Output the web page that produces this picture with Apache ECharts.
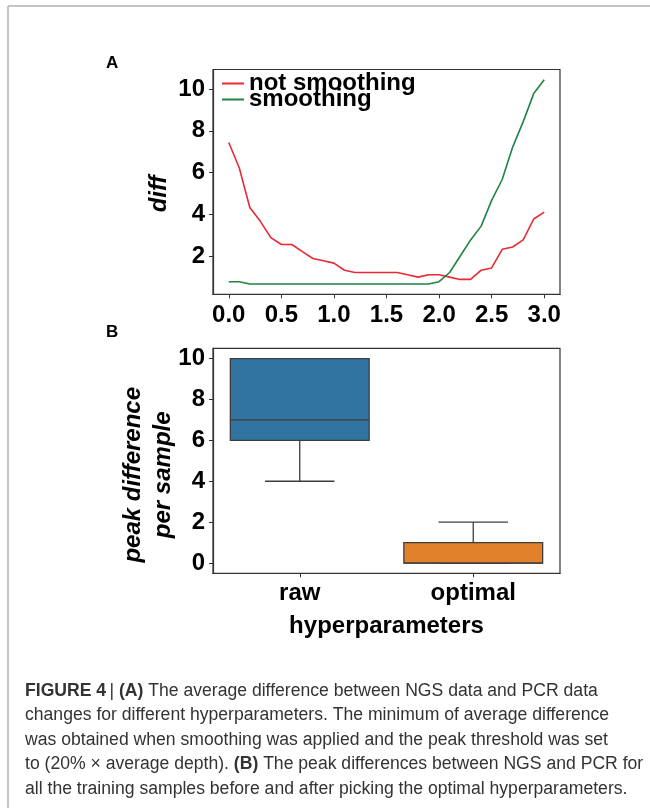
<!DOCTYPE html>
<html>
<head>
<meta charset="utf-8">
<script src="https://cdn.jsdelivr.net/npm/echarts@6/dist/echarts.min.js"></script>
<style>
  html, body { margin: 0; padding: 0; background: #fff; }
  #main { width: 650px; height: 808px; }
</style>
</head>
<body>
<div id="main"></div>
<script>
// panel A: average difference vs. peak threshold hyperparameter
const thresholds = [0.0, 0.1, 0.2, 0.3, 0.4, 0.5, 0.6, 0.7, 0.8, 0.9, 1.0,
  1.1, 1.2, 1.3, 1.4, 1.5, 1.6, 1.7, 1.8, 1.9, 2.0,
  2.1, 2.2, 2.3, 2.4, 2.5, 2.6, 2.7, 2.8, 2.9, 3.0]
const notSmoothing = [7.44, 6.22, 4.33, 3.67, 2.89, 2.56, 2.56, 2.22, 1.89, 1.78, 1.67,
  1.33, 1.22, 1.22, 1.22, 1.22, 1.22, 1.11, 1.0, 1.11, 1.11,
  1.0, 0.89, 0.89, 1.33, 1.44, 2.33, 2.44, 2.78, 3.78, 4.11]
const smoothing = [0.78, 0.78, 0.67, 0.67, 0.67, 0.67, 0.67, 0.67, 0.67, 0.67, 0.67,
  0.67, 0.67, 0.67, 0.67, 0.67, 0.67, 0.67, 0.67, 0.67, 0.78,
  1.22, 2.0, 2.78, 3.44, 4.67, 5.67, 7.22, 8.44, 9.78, 10.44]
const xTicksA = [0, 0.5, 1.0, 1.5, 2.0, 2.5, 3.0]
const yTicksA = [2, 4, 6, 8, 10]

// panel B: peak difference per sample, [min, Q1, median, Q3, max]
const boxCategories = ['raw', 'optimal']
const boxStats = [
  [4, 6, 7, 10, 10],
  [0, 0, 0, 1, 2]
]
const boxColors = ['#3274a1', '#e1812c']
const yTicksB = [0, 2, 4, 6, 8, 10]

const font = 'Liberation Sans, Arial, sans-serif'
const tickText = { fontFamily: font, fontWeight: 'bold', fontSize: 24, color: '#000' }
const spine = '#333'

const chart = echarts.init(document.getElementById('main'), null, { renderer: 'canvas' })

function zip (xs, ys) {
  return xs.map((x, i) => [x, ys[i]])
}

function renderBox (params, api) {
  const cat = api.value(0)
  const band = api.size([1, 0])[0]
  const half = band * 0.4
  const cap = band * 0.2
  const cx = api.coord([cat, 0])[0]
  const y = k => api.coord([cat, api.value(k)])[1]
  const yMin = y(1), yQ1 = y(2), yMed = y(3), yQ3 = y(4), yMax = y(5)
  const line = { stroke: '#3d3d3d', lineWidth: 1.3 }
  return {
    type: 'group',
    children: [
      { type: 'line', shape: { x1: cx, y1: yQ1, x2: cx, y2: yMin }, style: line },
      { type: 'line', shape: { x1: cx - cap, y1: yMin, x2: cx + cap, y2: yMin }, style: line },
      { type: 'line', shape: { x1: cx, y1: yQ3, x2: cx, y2: yMax }, style: line },
      { type: 'line', shape: { x1: cx - cap, y1: yMax, x2: cx + cap, y2: yMax }, style: line },
      {
        type: 'rect',
        shape: { x: cx - half, y: yQ3, width: half * 2, height: yQ1 - yQ3 },
        style: { fill: boxColors[cat], stroke: '#3d3d3d', lineWidth: 1.3 }
      },
      { type: 'line', shape: { x1: cx - half, y1: yMed, x2: cx + half, y2: yMed }, style: line }
    ]
  }
}

const caption = [
  '{b|FIGURE 4} {n|| }{b|(A)}{n| The average difference between NGS data and PCR data}',
  '{n|changes for different hyperparameters. The minimum of average difference}',
  '{n|was obtained when smoothing was applied and the peak threshold was set}',
  '{n|to (20% × average depth). }{b|(B)}{n| The peak differences between NGS and PCR for}',
  '{n|all the training samples before and after picking the optimal hyperparameters.}'
]

const option = {
  animation: false,
  backgroundColor: '#fff',
  legend: {
    left: 222,
    top: 71.5,
    padding: 0,
    orient: 'vertical',
    itemGap: -8,
    itemWidth: 22,
    itemHeight: 2,
    icon: 'rect',
    data: ['not smoothing', 'smoothing'],
    textStyle: { fontFamily: font, fontWeight: 'bold', fontSize: 24, color: '#000' }
  },
  grid: [
    { left: 213, top: 69.5, width: 347, height: 224.8, show: true, borderColor: spine, borderWidth: 1.2 },
    { left: 213, top: 348.3, width: 347, height: 225, show: true, borderColor: spine, borderWidth: 1.2 }
  ],
  xAxis: [
    {
      gridIndex: 0,
      type: 'value',
      min: -0.15,
      max: 3.15,
      axisLine: { show: true, onZero: false, lineStyle: { color: spine, width: 1.2 } },
      axisTick: { show: true, length: 4, customValues: xTicksA, lineStyle: { color: spine } },
      axisLabel: { customValues: xTicksA, margin: 9, formatter: v => v.toFixed(1), ...tickText },
      splitLine: { show: false }
    },
    {
      gridIndex: 1,
      type: 'category',
      data: boxCategories,
      name: 'hyperparameters',
      nameLocation: 'middle',
      nameGap: 41,
      nameMoveOverlap: false,
      nameTextStyle: { ...tickText },
      axisLine: { show: true, onZero: false, lineStyle: { color: spine, width: 1.2 } },
      axisTick: { show: true, length: 4, alignWithLabel: true, lineStyle: { color: spine } },
      axisLabel: { margin: 8, ...tickText },
      splitLine: { show: false }
    }
  ],
  yAxis: [
    {
      gridIndex: 0,
      type: 'value',
      min: 0.178,
      max: 10.933,
      name: 'diff',
      nameLocation: 'middle',
      nameGap: 42,
      nameMoveOverlap: false,
      nameTextStyle: { ...tickText, fontStyle: 'italic', padding: [0, 24, 0, 0] },
      axisLine: { show: true, onZero: false, lineStyle: { color: spine, width: 1.2 } },
      axisTick: { show: true, length: 4, customValues: yTicksA, lineStyle: { color: spine } },
      axisLabel: { customValues: yTicksA, margin: 8, ...tickText },
      splitLine: { show: false }
    },
    {
      gridIndex: 1,
      type: 'value',
      min: -0.5,
      max: 10.5,
      name: 'peak difference\nper sample',
      nameLocation: 'middle',
      nameGap: 35,
      nameMoveOverlap: false,
      nameTextStyle: { ...tickText, fontStyle: 'italic', lineHeight: 30, padding: [0, 28, 0, 0] },
      axisLine: { show: true, onZero: false, lineStyle: { color: spine, width: 1.2 } },
      axisTick: { show: true, length: 4, customValues: yTicksB, lineStyle: { color: spine } },
      axisLabel: { customValues: yTicksB, margin: 8, ...tickText },
      splitLine: { show: false }
    }
  ],
  series: [
    {
      name: 'not smoothing',
      type: 'line',
      xAxisIndex: 0,
      yAxisIndex: 0,
      data: zip(thresholds, notSmoothing),
      showSymbol: false,
      symbol: 'none',
      color: '#ea2a30',
      lineStyle: { width: 1.6 }
    },
    {
      name: 'smoothing',
      type: 'line',
      xAxisIndex: 0,
      yAxisIndex: 0,
      data: zip(thresholds, smoothing),
      showSymbol: false,
      symbol: 'none',
      color: '#1f8441',
      lineStyle: { width: 1.6 }
    },
    {
      type: 'custom',
      xAxisIndex: 1,
      yAxisIndex: 1,
      renderItem: renderBox,
      encode: { x: 0, y: [1, 2, 3, 4, 5] },
      data: boxStats.map((s, i) => [i, ...s])
    }
  ],
  graphic: [
    { type: 'line', shape: { x1: 8, y1: 6, x2: 650, y2: 6 }, style: { stroke: '#b0b0b0', lineWidth: 1.5 } },
    { type: 'line', shape: { x1: 8, y1: 6, x2: 8, y2: 808 }, style: { stroke: '#b0b0b0', lineWidth: 1.5 } },
    { type: 'text', left: 106, top: 55, style: { text: 'A', font: 'bold 17px ' + font, fill: '#000' } },
    { type: 'text', left: 106, top: 324, style: { text: 'B', font: 'bold 17px ' + font, fill: '#000' } },
    {
      type: 'text',
      left: 25,
      top: 679,
      style: {
        text: caption.join('\n'),
        lineHeight: 24.4,
        fill: '#333',
        rich: {
          b: { fontFamily: font, fontWeight: 'bold', fontSize: 17.6, fill: '#333', lineHeight: 24.4 },
          n: { fontFamily: font, fontSize: 17.6, fill: '#333', lineHeight: 24.4 }
        }
      }
    }
  ]
}

chart.setOption(option)
</script>
</body>
</html>
